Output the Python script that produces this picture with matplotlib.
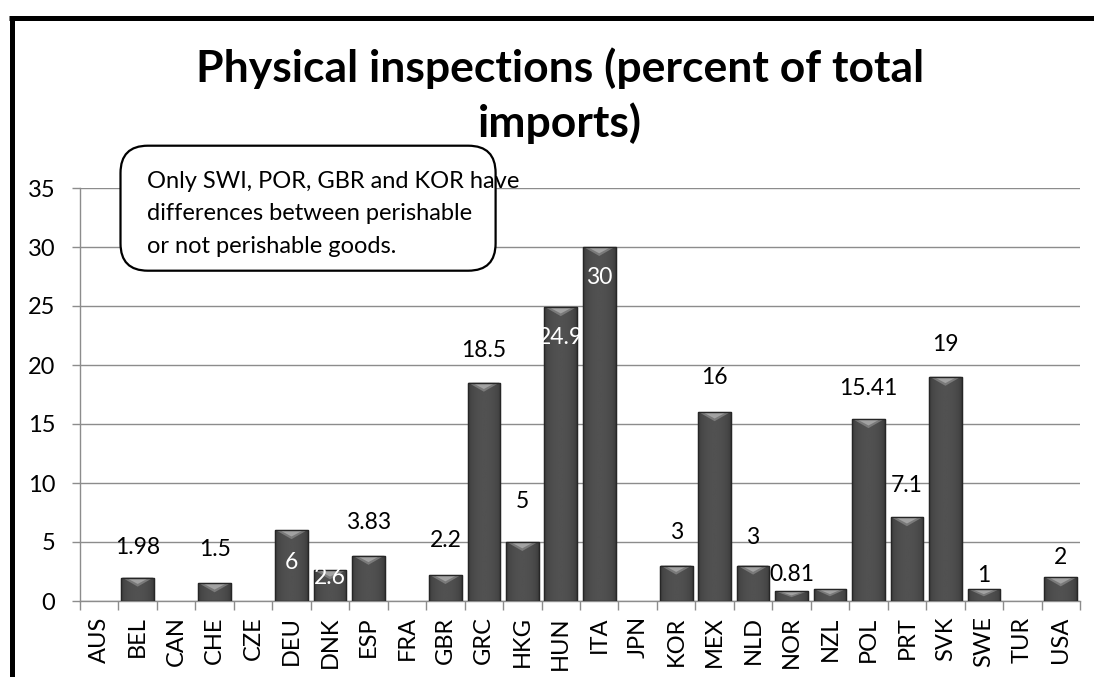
import numpy as np
import matplotlib
matplotlib.use("Agg")
import matplotlib.pyplot as plt
from matplotlib.patches import FancyBboxPatch, Polygon
from matplotlib.lines import Line2D

# ---- data ----
categories = ["AUS", "BEL", "CAN", "CHE", "CZE", "DEU", "DNK", "ESP", "FRA", "GBR",
              "GRC", "HKG", "HUN", "ITA", "JPN", "KOR", "MEX", "NLD", "NOR", "NZL",
              "POL", "PRT", "SVK", "SWE", "TUR", "USA"]
values = [np.nan, 1.98, np.nan, 1.5, np.nan, 6, 2.6, 3.83, np.nan, 2.2,
          18.5, 5, 24.9, 30, np.nan, 3, 16, 3, 0.81, 1,
          15.41, 7.1, 19, 1, np.nan, 2]
value_labels = ["", "1.98", "", "1.5", "", "6", "2.6", "3.83", "", "2.2",
                "18.5", "5", "24.9", "30", "", "3", "16", "3", "0.81", "",
                "15.41", "7.1", "19", "1", "", "2"]
title_lines = ["Physical inspections (percent of total", "imports)"]
note_lines = ["Only SWI, POR, GBR and KOR have",
              "differences between perishable",
              "or not perishable goods."]
yticks = [0, 5, 10, 15, 20, 25, 30, 35]

# ---- style: label placement (points, relative to bar top; negative = inside, white) ----
label_offset = {"BEL": 22, "CHE": 24, "DEU": -23, "DNK": -5, "ESP": 24, "GBR": 25,
                "GRC": 23, "HKG": 29, "HUN": -22, "ITA": -22, "KOR": 24, "MEX": 25,
                "NLD": 20, "NOR": 12, "POL": 22, "PRT": 23, "SVK": 23, "SWE": 10,
                "USA": 14}

FONT = "Lato"
plt.rcParams["font.family"] = [FONT, "DejaVu Sans"]

W, H = 1094, 677
fig = plt.figure(figsize=(W / 100, H / 100), dpi=100)
fig.patch.set_facecolor("white")

left_px, right_px, top_px, bottom_px = 80, 1080, 188, 601
ax = fig.add_axes([left_px / W, (H - bottom_px) / H,
                   (right_px - left_px) / W, (bottom_px - top_px) / H])

x = np.arange(len(categories))
vals = np.array(values, dtype=float)
bars = ax.bar(x, np.nan_to_num(vals), width=0.85, color="#444444",
              edgecolor="#2a2a2a", linewidth=0.8, zorder=3)

# gradient + bevel on each bar
grad = np.linspace(0, 1, 64)
prof = 0.22 + 0.10 * np.sin(np.pi * grad) ** 0.5
prof = np.tile(prof, (2, 1))
px_per_unit = (bottom_px - top_px) / 35.0
for b, v in zip(bars, vals):
    if np.isnan(v) or v <= 0:
        b.set_visible(False)
        continue
    x0, w, h = b.get_x(), b.get_width(), b.get_height()
    im = ax.imshow(prof, cmap="gray", vmin=0, vmax=1, aspect="auto",
                   extent=[x0, x0 + w, 0, h], zorder=3.5, interpolation="bicubic")
    im.set_clip_path(b)
    depth = min(9 / px_per_unit, 0.6 * h)
    tri = Polygon([[x0 + 0.02, h], [x0 + w - 0.02, h], [x0 + w / 2, h - depth]],
                  closed=True, facecolor="#7a7a7a", edgecolor="none", zorder=4)
    ax.add_patch(tri)
    tri2 = Polygon([[x0 + w * 0.15, h - depth * 0.02], [x0 + w * 0.85, h - depth * 0.02],
                    [x0 + w / 2, h - depth * 0.7]],
                   closed=True, facecolor="#a2a2a2", edgecolor="none", zorder=4.1)
    ax.add_patch(tri2)
    ax.add_patch(plt.Rectangle((x0, 0), w, h, fill=False, edgecolor="#262626",
                               linewidth=1.0, zorder=4.2))

# data labels
for i, (c, v, lab) in enumerate(zip(categories, vals, value_labels)):
    if not lab:
        continue
    off = label_offset.get(c, 23)
    col = "white" if off < 0 else "black"
    ax.annotate(lab, (i, v), xytext=(0, off), textcoords="offset points",
                ha="center", va="center", fontsize=16.5, color=col, zorder=6)

ax.set_xlim(-0.5, len(categories) - 0.5)
ax.set_ylim(0, 35)
ax.set_yticks(yticks)
ax.set_yticklabels([str(t) for t in yticks], fontsize=17)
ax.set_xticks(x)
ax.set_xticklabels(categories, rotation=90, fontsize=17)
ax.set_xticks(np.arange(-0.5, len(categories), 1), minor=True)
ax.tick_params(axis="x", which="major", length=0, pad=11)
ax.tick_params(axis="x", which="minor", length=6.5, width=1, color="#8c8c8c")
ax.tick_params(axis="y", length=5.8, width=1, color="#8c8c8c", pad=12)
ax.yaxis.grid(True, color="#8c8c8c", linewidth=1, zorder=0)
ax.set_axisbelow(True)
for s in ["top", "right"]:
    ax.spines[s].set_visible(False)
for s in ["left", "bottom"]:
    ax.spines[s].set_color("#8c8c8c")
    ax.spines[s].set_linewidth(1)

# title (two centred lines)
for line, base in zip(title_lines, [82, 137]):
    fig.text(560 / W, 1 - base / H, line, ha="center", va="baseline",
             fontsize=32, fontweight="bold")

# note box
bx0, bx1, by0, by1 = 120.5, 495.6, 145.7, 270.7
box = FancyBboxPatch((bx0 / W, 1 - by1 / H), (bx1 - bx0) / W, (by1 - by0) / H,
                     boxstyle="round,pad=0,rounding_size=0.025",
                     transform=fig.transFigure, facecolor="white",
                     edgecolor="black", linewidth=1.6, zorder=10,
                     mutation_aspect=W / H)
fig.add_artist(box)
for line, base in zip(note_lines, [188, 220, 253]):
    fig.text(147 / W, 1 - base / H, line, ha="left", va="baseline",
             fontsize=17, zorder=11)

# outer frame (top and left)
fig.add_artist(Line2D([9 / W, 1], [1 - 17.5 / H] * 2, color="black", linewidth=3.6,
                      transform=fig.transFigure, solid_capstyle="butt"))
fig.add_artist(Line2D([12 / W] * 2, [0, 1 - 15.7 / H], color="black", linewidth=3.6,
                      transform=fig.transFigure, solid_capstyle="butt"))

fig.savefig("out.png", dpi=100)
